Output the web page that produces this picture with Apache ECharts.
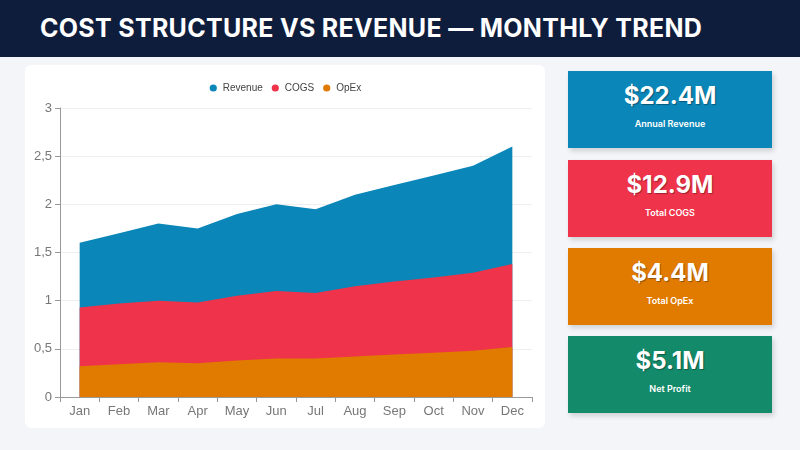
<!DOCTYPE html>
<html>
<head>
<meta charset="utf-8">
<script src="https://cdn.jsdelivr.net/npm/echarts@6/dist/echarts.min.js"></script>
<style>
  body { margin:0; width:800px; height:450px; background:#f3f5f9; font-family:Inter, "Noto Sans", sans-serif; overflow:hidden; position:relative; }
  .hdr { position:absolute; left:0; top:0; width:800px; height:57px; background:#0f1d3d; color:#fff; font-weight:700; font-size:25px; line-height:57px; padding-left:40px; box-sizing:border-box; letter-spacing:0.3px; }
  .card { position:absolute; left:25px; top:65px; width:520px; height:363px; background:#fff; border-radius:6px; }
  #chart { position:absolute; left:0; top:0; width:520px; height:363px; }
  .kpi { position:absolute; left:568px; width:204px; height:77px; color:#fff; text-align:center; box-shadow:2px 3px 5px rgba(0,0,0,0.15); }
  .kpi .v { font-size:24px; font-weight:700; margin-top:10px; text-shadow:1px 1px 1px rgba(0,0,0,0.35); }
  .kpi .l { font-size:9px; font-weight:600; margin-top:8px; }
</style>
</head>
<body>
<div class="hdr">COST STRUCTURE VS REVENUE — MONTHLY TREND</div>
<div class="card"><div id="chart"></div></div>
<div id="kpis"></div>
<script>
var months = ['Jan','Feb','Mar','Apr','May','Jun','Jul','Aug','Sep','Oct','Nov','Dec'];
var revenue = [1.6, 1.7, 1.8, 1.75, 1.9, 2.0, 1.95, 2.1, 2.2, 2.3, 2.4, 2.6];
var cogs = [0.93, 0.97, 1.0, 0.98, 1.05, 1.1, 1.08, 1.15, 1.2, 1.24, 1.29, 1.38];
var opex = [0.32, 0.34, 0.36, 0.35, 0.38, 0.4, 0.4, 0.42, 0.44, 0.46, 0.48, 0.52];
var kpiValues = ['$22.4M', '$12.9M', '$4.4M', '$5.1M'];
var kpiLabels = ['Annual Revenue', 'Total COGS', 'Total OpEx', 'Net Profit'];
var kpiColors = ['#0a86b8', '#ef334a', '#e07b00', '#138a6a'];
var kpiTops = [71, 160, 248, 336];

var html = '';
for (var i = 0; i < kpiValues.length; i++) {
  html += '<div class="kpi" style="top:' + kpiTops[i] + 'px;background:' + kpiColors[i] + '"><div class="v">' +
    kpiValues[i] + '</div><div class="l">' + kpiLabels[i] + '</div></div>';
}
document.getElementById('kpis').innerHTML = html;

var chart = echarts.init(document.getElementById('chart'));
function area(name, data, color) {
  return { name: name, type: 'line', data: data, symbol: 'none', lineStyle: { width: 0 },
    itemStyle: { color: color }, areaStyle: { color: color, opacity: 1 } };
}
chart.setOption({
  animation: false,
  legend: { top: 13, itemWidth: 9, itemHeight: 9, itemGap: 8, textStyle: { fontSize: 10, color: '#444' },
    data: ['Revenue', 'COGS', 'OpEx'] },
  grid: { left: 35, right: 13, top: 43, bottom: 31 },
  xAxis: { type: 'category', data: months, boundaryGap: true,
    axisLine: { lineStyle: { color: '#999' } }, axisTick: { show: true, lineStyle: { color: '#999' } },
    axisLabel: { color: '#777', fontSize: 13 } },
  yAxis: { type: 'value', min: 0, max: 3, interval: 0.5,
    axisLine: { show: true, lineStyle: { color: '#999' } }, axisTick: { show: true, lineStyle: { color: '#999' } },
    splitLine: { lineStyle: { color: '#eee' } },
    axisLabel: { color: '#777', fontSize: 13, formatter: function (v) { return String(v).replace('.', ','); } } },
  series: [area('Revenue', revenue, '#0a86b8'), area('COGS', cogs, '#ef334a'), area('OpEx', opex, '#e07b00')]
});
</script>
</body>
</html>
